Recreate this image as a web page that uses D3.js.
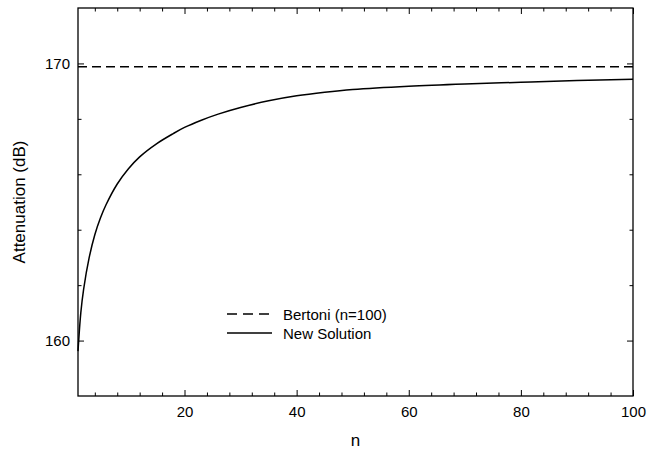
<!DOCTYPE html>
<html>
<head>
<meta charset="utf-8">
<script src="https://cdn.jsdelivr.net/npm/d3@7"></script>
<style>
  html, body { margin: 0; padding: 0; background: #fff; }
  svg text { font-family: 'Liberation Sans', Arial, Helvetica, sans-serif; fill: #000; }
</style>
</head>
<body>
<div id="chart"></div>
<script>
// Data
const nValues = [1, 1.5, 2, 3, 4, 5, 6, 8, 10, 12, 15, 18, 20, 23, 26, 30, 35, 40, 45, 50, 60, 70, 80, 90, 100];
const newSolution = [159.62, 161.0, 161.85, 163.0, 163.82, 164.42, 164.9, 165.65, 166.2, 166.63, 167.1, 167.47, 167.69, 167.95, 168.17, 168.41, 168.65, 168.83, 168.96, 169.06, 169.18, 169.26, 169.32, 169.38, 169.43];
const bertoni = 169.88;
const xMajorTicks = [20, 40, 60, 80, 100];
const xMinorTicks = d3.range(4, 100, 4).filter(v => v % 20 !== 0);
const yMajorTicks = [160, 170];
const yMinorTicks = [162, 164, 166, 168];
const legendLabels = ['Bertoni (n=100)', 'New Solution'];

const width = 658, height = 453;
const margin = { top: 8, right: 25, bottom: 57, left: 78 };
const innerW = width - margin.left - margin.right;
const innerH = height - margin.top - margin.bottom;

const x = d3.scaleLinear().domain([1, 100]).range([0, innerW]);
const y = d3.scaleLinear().domain([158, 172]).range([innerH, 0]);

const svg = d3.select('#chart').append('svg')
  .attr('width', width).attr('height', height);

const g = svg.append('g').attr('transform', `translate(${margin.left},${margin.top})`);

// Inward ticks on all four sides
const majorLen = 6, minorLen = 3.5;
function xticks(vals, len, labels) {
  // bottom
  g.append('g').attr('transform', `translate(0,${innerH})`)
    .call(d3.axisBottom(x).tickValues(vals).tickSizeInner(-len).tickSizeOuter(0).tickPadding(10)
      .tickFormat(labels ? d3.format('d') : ''))
    .call(a => a.select('.domain').remove());
  // top
  g.append('g')
    .call(d3.axisTop(x).tickValues(vals).tickSizeInner(-len).tickSizeOuter(0).tickFormat(''))
    .call(a => a.select('.domain').remove());
}
xticks(xMajorTicks, majorLen, true);
xticks(xMinorTicks, minorLen, false);

function yticks(vals, len, labels) {
  g.append('g')
    .call(d3.axisLeft(y).tickValues(vals).tickSizeInner(-len).tickSizeOuter(0).tickPadding(8)
      .tickFormat(labels ? d3.format('d') : ''))
    .call(a => a.select('.domain').remove());
  g.append('g').attr('transform', `translate(${innerW},0)`)
    .call(d3.axisRight(y).tickValues(vals).tickSizeInner(-len).tickSizeOuter(0).tickFormat(''))
    .call(a => a.select('.domain').remove());
}
yticks(yMajorTicks, majorLen, true);
yticks(yMinorTicks, minorLen, false);

g.selectAll('.tick line').attr('stroke', '#000').attr('stroke-width', 1);
g.selectAll('.tick text').attr('font-size', '15px').attr('fill', '#000');

// Frame
g.append('rect')
  .attr('width', innerW).attr('height', innerH)
  .attr('fill', 'none').attr('stroke', '#000').attr('stroke-width', 1.3);

// Bertoni reference (dashed)
g.append('line')
  .attr('x1', 0).attr('x2', innerW)
  .attr('y1', y(bertoni)).attr('y2', y(bertoni))
  .attr('stroke', '#000').attr('stroke-width', 1.3)
  .attr('stroke-dasharray', '9,5');

// New solution curve
const line = d3.line()
  .x((d, i) => x(nValues[i]))
  .y(d => y(d))
  .curve(d3.curveCatmullRom.alpha(0.5));

g.append('path')
  .datum(newSolution)
  .attr('d', line)
  .attr('fill', 'none')
  .attr('stroke', '#000')
  .attr('stroke-width', 1.5);

// Legend
const lg = svg.append('g').attr('transform', 'translate(227,314)');
legendLabels.forEach((lab, i) => {
  const ly = i * 19;
  lg.append('line')
    .attr('x1', 0).attr('x2', i === 0 ? 42 : 45)
    .attr('y1', ly).attr('y2', ly)
    .attr('stroke', '#000').attr('stroke-width', 1.3)
    .attr('stroke-dasharray', i === 0 ? '10,6' : null);
  lg.append('text')
    .attr('x', 56).attr('y', ly + 6)
    .attr('font-size', '15px')
    .text(lab);
});

// Axis titles
svg.append('text')
  .attr('x', margin.left + innerW / 2).attr('y', 446)
  .attr('text-anchor', 'middle')
  .attr('font-size', '17px')
  .text('n');

svg.append('text')
  .attr('transform', `translate(25,${margin.top + innerH / 2}) rotate(-90)`)
  .attr('text-anchor', 'middle')
  .attr('font-size', '17px')
  .text('Attenuation (dB)');
</script>
</body>
</html>
